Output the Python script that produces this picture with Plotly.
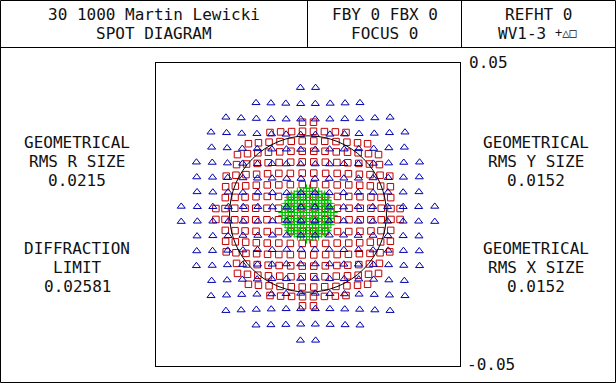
import plotly.graph_objects as go

# ---------------- data (mm at image plane) ----------------
# first-quadrant spot positions, mirrored to the other quadrants
# wavelength 2 (triangles)
TRI_X = [.0023, .0070, .0117, .0165, .0213, .0262, .0313, .0364, .0417,
         .0023, .0070, .0117, .0165, .0214, .0263, .0313, .0365,
         .0023, .0070, .0118, .0166, .0214, .0264, .0314, .0366,
         .0024, .0071, .0118, .0166, .0215, .0265, .0315, .0367,
         .0024, .0071, .0119, .0167, .0216, .0266, .0317,
         .0024, .0072, .0120, .0168, .0218, .0268, .0319,
         .0024, .0072, .0121, .0170, .0220, .0270,
         .0024, .0073, .0122, .0171,
         .0025]
TRI_Y = [.0023, .0023, .0023, .0024, .0024, .0024, .0024, .0024, .0025,
         .0070, .0070, .0070, .0071, .0071, .0072, .0072, .0073,
         .0117, .0117, .0118, .0118, .0119, .0120, .0121, .0122,
         .0165, .0165, .0166, .0166, .0167, .0168, .0170, .0171,
         .0213, .0214, .0214, .0215, .0216, .0218, .0220,
         .0262, .0263, .0264, .0265, .0266, .0268, .0270,
         .0313, .0313, .0314, .0315, .0317, .0319,
         .0364, .0365, .0366, .0367,
         .0417]
# wavelength 3 (squares)
SQ_X = [.0020, .0058, .0097, .0135, .0172, .0207, .0241, .0273, .0303,
        .0019, .0058, .0097, .0134, .0171, .0207, .0240, .0272,
        .0019, .0058, .0096, .0134, .0170, .0205, .0239, .0271,
        .0019, .0058, .0096, .0133, .0169, .0204, .0237, .0269,
        .0019, .0057, .0095, .0131, .0167, .0202, .0235,
        .0019, .0056, .0093, .0130, .0165, .0199, .0232,
        .0019, .0055, .0092, .0128, .0163, .0196,
        .0018, .0054, .0090, .0125,
        .0018]
SQ_Y = [.0020, .0019, .0019, .0019, .0019, .0019, .0019, .0018, .0018,
        .0058, .0058, .0058, .0058, .0057, .0056, .0055, .0054,
        .0097, .0097, .0096, .0096, .0095, .0093, .0092, .0090,
        .0135, .0134, .0134, .0133, .0131, .0130, .0128, .0125,
        .0172, .0171, .0170, .0169, .0167, .0165, .0163,
        .0207, .0207, .0205, .0204, .0202, .0199, .0196,
        .0241, .0240, .0239, .0237, .0235, .0232,
        .0273, .0272, .0271, .0269,
        .0303]
# wavelength 1 (crosses)
PL_X = [.0005, .0015, .0025, .0035, .0045, .0055, .0065, .0075, .0085,
        .0005, .0015, .0025, .0035, .0045, .0055, .0065, .0075,
        .0005, .0015, .0025, .0035, .0045, .0055, .0065, .0075,
        .0005, .0015, .0025, .0035, .0045, .0055, .0065, .0075,
        .0005, .0015, .0025, .0035, .0045, .0055, .0065,
        .0005, .0015, .0025, .0035, .0045, .0055, .0065,
        .0005, .0015, .0025, .0035, .0045, .0055,
        .0005, .0015, .0025, .0035,
        .0005]
PL_Y = [.0005, .0005, .0005, .0005, .0005, .0005, .0005, .0005, .0005,
        .0015, .0015, .0015, .0015, .0015, .0015, .0015, .0015,
        .0025, .0025, .0025, .0025, .0025, .0025, .0025, .0025,
        .0035, .0035, .0035, .0035, .0035, .0035, .0035, .0035,
        .0045, .0045, .0045, .0045, .0045, .0045, .0045,
        .0055, .0055, .0055, .0055, .0055, .0055, .0055,
        .0065, .0065, .0065, .0065, .0065, .0065,
        .0075, .0075, .0075, .0075,
        .0085]
DIFFRACTION_LIMIT = 0.02581
AXIS_LIMIT = 0.05

HEADER = ["30 1000 Martin Lewicki", "SPOT DIAGRAM", "FBY 0 FBX 0", "FOCUS 0",
          "REFHT 0", "WV1-3"]
LEFT_LABELS = ["GEOMETRICAL", "RMS R SIZE", "0.0215", "DIFFRACTION", "LIMIT", "0.02581"]
RIGHT_LABELS = ["GEOMETRICAL", "RMS Y SIZE", "0.0152", "GEOMETRICAL", "RMS X SIZE", "0.0152"]

# ---------------- figure ----------------
W, H = 616, 383
FONT = "DejaVu Sans Mono"


def px(x):
    return x / W


def py(y):
    return 1 - y / H


def mirror(xs, ys):
    X, Y = [], []
    for sx in (1, -1):
        for sy in (1, -1):
            for x, y in zip(xs, ys):
                X.append(sx * x)
                Y.append(sy * y)
    return X, Y


fig = go.Figure()

sx, sy = mirror(SQ_X, SQ_Y)
fig.add_trace(go.Scatter(x=sx, y=sy, mode="markers", hoverinfo="skip",
                         marker=dict(symbol="square-open", size=6.5, color="#c00000",
                                     line=dict(width=1))))
gx, gy = mirror(PL_X, PL_Y)
fig.add_trace(go.Scatter(x=gx, y=gy, mode="markers", hoverinfo="skip",
                         marker=dict(symbol="cross-thin-open", size=5.5, color="#00c000",
                                     line=dict(width=1, color="#00c000"))))
tx, ty = mirror(TRI_X, TRI_Y)
fig.add_trace(go.Scatter(x=tx, y=ty, mode="markers", hoverinfo="skip",
                         marker=dict(symbol="triangle-up-open", size=7, color="#0000b0",
                                     line=dict(width=1))))

# plot box pixel geometry
BX0, BX1, BY0, BY1 = 156, 460, 62.5, 365.5
axis_common = dict(range=[-AXIS_LIMIT, AXIS_LIMIT], showgrid=False, zeroline=False,
                   showticklabels=False, ticks="", showline=True, mirror=True,
                   linecolor="black", linewidth=1, fixedrange=True)
fig.update_layout(
    width=W, height=H, autosize=False,
    margin=dict(l=0, r=0, t=0, b=0),
    paper_bgcolor="white", plot_bgcolor="white",
    showlegend=False,
    xaxis=dict(domain=[px(BX0), px(BX1)], **axis_common),
    yaxis=dict(domain=[py(BY1), py(BY0)], **axis_common),
    font=dict(family=FONT, size=16, color="black"),
)

# diffraction-limit circle
fig.add_shape(type="circle", xref="x", yref="y",
              x0=-DIFFRACTION_LIMIT, x1=DIFFRACTION_LIMIT,
              y0=-DIFFRACTION_LIMIT, y1=DIFFRACTION_LIMIT,
              line=dict(color="black", width=1))

# frame lines
line = dict(color="black", width=1)
fig.add_shape(type="rect", xref="paper", yref="paper",
              x0=px(0.5), x1=px(615.5), y0=py(382.5), y1=py(0.5), line=line)
fig.add_shape(type="line", xref="paper", yref="paper",
              x0=px(0), x1=px(616), y0=py(47.5), y1=py(47.5), line=line)
for xd in (307.5, 461.5):
    fig.add_shape(type="line", xref="paper", yref="paper",
                  x0=px(xd), x1=px(xd), y0=py(0), y1=py(47.5), line=line)


def text(t, x, y, anchor="center", size=16):
    fig.add_annotation(text=t, x=px(x), y=py(y), xref="paper", yref="paper",
                       xanchor=anchor, yanchor="middle", showarrow=False,
                       font=dict(family=FONT, size=size, color="#111111"))


text(HEADER[0], 153.5, 14.5)
text(HEADER[1], 153.5, 33.5)
text(HEADER[2], 384.5, 14.5)
text(HEADER[3], 384.5, 33.5)
text(HEADER[4], 538.5, 14.5)
text(HEADER[5], 548, 33.5, anchor="right")
text("+△□", 553, 33, anchor="left", size=12)

for lab, yy in zip(LEFT_LABELS, [142, 161, 180, 248.5, 267.5, 286.5]):
    text(lab, 77, yy)
for lab, yy in zip(RIGHT_LABELS, [142, 161, 180, 248.5, 267.5, 286.5]):
    text(lab, 536, yy)

text(f"{AXIS_LIMIT:g}", 467, 62, anchor="left")
text(f"{-AXIS_LIMIT:g}", 465, 364.5, anchor="left")

fig.write_html("out.html")
